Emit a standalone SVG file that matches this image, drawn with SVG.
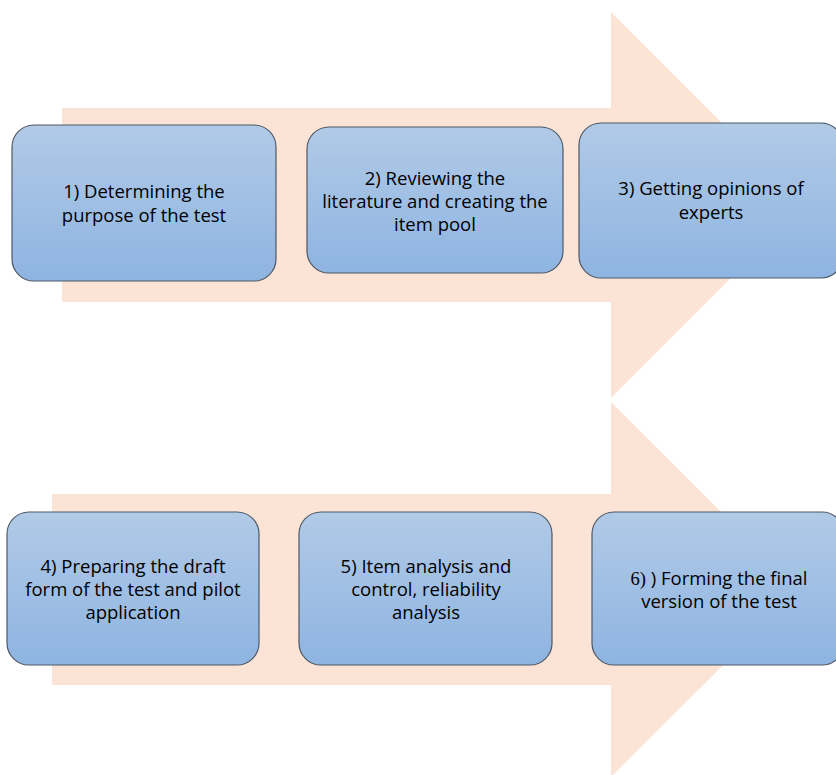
<svg xmlns="http://www.w3.org/2000/svg" width="836" height="775" viewBox="0 0 836 775">
<defs>
<linearGradient id="g" x1="0" y1="0" x2="0" y2="1">
<stop offset="0" stop-color="#b1cae7"/>
<stop offset="1" stop-color="#8eb4e1"/>
</linearGradient>
<style>
.arrow{fill:#fbe4d6;stroke:none}
.box{fill:url(#g);stroke:#4d5966;stroke-width:1.2}
.t{font-family:"Open Sans","Liberation Sans",sans-serif;font-size:18.5px;fill:#000;text-anchor:middle}
.s{font-family:"Liberation Serif",serif}
</style>
</defs>
<g id="connectors">
<polygon class="arrow" points="62,108 611,108 611,12 804,205 611,398 611,302 62,302"/>
<polygon class="arrow" points="52,494 611,494 611,402 799,589.5 611,777 611,685 52,685"/>
</g>
<g id="n1"><rect class="box" x="12" y="125" width="264" height="156" rx="22"/>
<text class="t" x="144" y="198">1) Determining the</text>
<text class="t" x="144" y="222">purpose of the test</text></g>
<g id="n2"><rect class="box" x="307" y="127" width="256" height="146" rx="22"/>
<text class="t" x="435" y="185">2) Reviewing the</text>
<text class="t" x="435" y="208">literature and creating the</text>
<text class="t" x="435" y="231">item pool</text></g>
<g id="n3"><rect class="box" x="579" y="123" width="264" height="155" rx="22"/>
<text class="t" x="711" y="195">3) Getting opinions of</text>
<text class="t" x="711" y="219">experts</text></g>
<g id="n4"><rect class="box" x="7" y="512" width="252" height="153" rx="22"/>
<text class="t" x="133" y="573">4) Preparing the draft</text>
<text class="t" x="133" y="596">form of the test and pilot</text>
<text class="t" x="133" y="619">application</text></g>
<g id="n5"><rect class="box" x="299" y="512" width="253" height="153" rx="22"/>
<text class="t" x="426" y="573">5) Item analysis and</text>
<text class="t" x="426" y="596">control, reliability</text>
<text class="t" x="426" y="619">analysis</text></g>
<g id="n6"><rect class="box" x="592" y="512" width="252" height="153" rx="22"/>
<text class="t" x="719" y="585"><tspan class="s">6)</tspan> ) Forming the final</text>
<text class="t" x="719" y="608">version of the test</text></g>
</svg>
